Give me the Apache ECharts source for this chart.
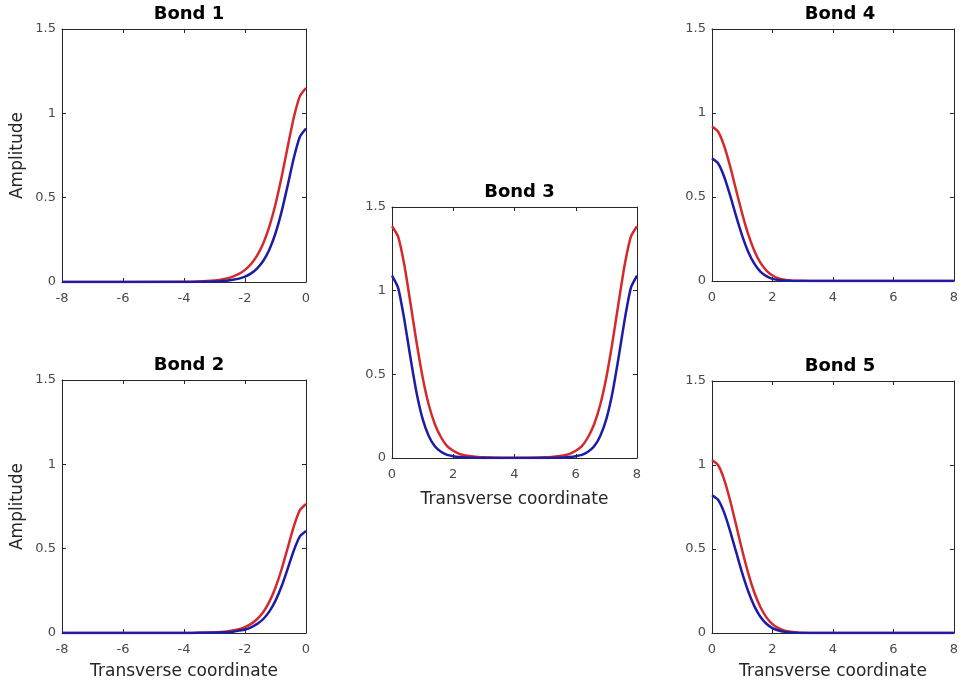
<!DOCTYPE html>
<html>
<head>
<meta charset="utf-8">
<script src="https://cdn.jsdelivr.net/npm/echarts@6/dist/echarts.min.js"></script>
<style>
  html, body { margin: 0; padding: 0; background: #fff; }
  #main { width: 961px; height: 686px; }
</style>
</head>
<body>
<div id="main"></div>
<script>
// 数据: 横坐标采样点
const xsNeg = [-8, -4.0, -3.5, -3.0, -2.8, -2.6, -2.4, -2.2, -2.0, -1.8, -1.6, -1.4, -1.2, -1.0, -0.8, -0.6, -0.4, -0.2, 0];
const xsPos = [0, 0.2, 0.4, 0.6, 0.8, 1.0, 1.2, 1.4, 1.6, 1.8, 2.0, 2.2, 2.4, 2.6, 2.8, 3.0, 3.5, 4.0, 8];
const xsMid = [0, 0.2, 0.4, 0.6, 0.8, 1.0, 1.2, 1.4, 1.6, 1.8, 2.0, 2.2, 2.4, 2.6, 2.8, 3.0, 3.5, 4.0, 4.5,
               5.0, 5.2, 5.4, 5.6, 5.8, 6.0, 6.2, 6.4, 6.6, 6.8, 7.0, 7.2, 7.4, 7.6, 7.8, 8.0];

// 各键的振幅 (红/蓝)
const bond1Red  = [0, 0.001, 0.003, 0.009, 0.014, 0.021, 0.032, 0.048, 0.072, 0.107, 0.158, 0.230, 0.330, 0.461, 0.622, 0.802, 0.975, 1.102, 1.15];
const bond1Blue = [0, 0, 0.001, 0.003, 0.005, 0.008, 0.013, 0.020, 0.032, 0.051, 0.081, 0.126, 0.193, 0.289, 0.417, 0.573, 0.735, 0.861, 0.91];
const bond2Red  = [0, 0, 0.001, 0.004, 0.006, 0.009, 0.015, 0.023, 0.035, 0.054, 0.083, 0.125, 0.186, 0.270, 0.378, 0.505, 0.632, 0.728, 0.765];
const bond2Blue = [0, 0, 0.001, 0.002, 0.003, 0.005, 0.008, 0.014, 0.021, 0.034, 0.054, 0.083, 0.128, 0.192, 0.277, 0.381, 0.489, 0.573, 0.605];
const bond3Red  = [1.385, 1.323, 1.156, 0.929, 0.693, 0.483, 0.318, 0.202, 0.124, 0.071, 0.043, 0.025, 0.015, 0.010, 0.006, 0.004,
                   0.002, 0.001, 0.002,
                   0.004, 0.006, 0.010, 0.015, 0.025, 0.043, 0.071, 0.124, 0.202, 0.318, 0.483, 0.693, 0.929, 1.156, 1.323, 1.385];
const bond3Blue = [1.09, 1.017, 0.830, 0.602, 0.392, 0.234, 0.132, 0.070, 0.037, 0.019, 0.011, 0.006, 0.003, 0.002, 0.001, 0,
                   0, 0, 0,
                   0, 0.001, 0.002, 0.003, 0.006, 0.011, 0.019, 0.037, 0.070, 0.132, 0.234, 0.392, 0.602, 0.830, 1.017, 1.09];
const bond4Red  = [0.92, 0.890, 0.805, 0.682, 0.540, 0.400, 0.277, 0.180, 0.109, 0.062, 0.033, 0.016, 0.008, 0.003, 0.001, 0.001, 0, 0, 0];
const bond4Blue = [0.73, 0.701, 0.622, 0.509, 0.385, 0.269, 0.173, 0.103, 0.056, 0.029, 0.013, 0.006, 0.002, 0.001, 0, 0, 0, 0, 0];
const bond5Red  = [1.03, 1.000, 0.915, 0.789, 0.641, 0.491, 0.355, 0.241, 0.155, 0.093, 0.053, 0.029, 0.014, 0.007, 0.003, 0.001, 0, 0, 0];
const bond5Blue = [0.82, 0.793, 0.718, 0.607, 0.481, 0.356, 0.247, 0.160, 0.097, 0.055, 0.029, 0.015, 0.007, 0.003, 0.001, 0, 0, 0, 0];

const titles = ['Bond 1', 'Bond 2', 'Bond 3', 'Bond 4', 'Bond 5'];

// 面板布局
const panels = [
  { title: titles[0], left: 62,  top: 29,  width: 244, height: 253, xmin: -8, xmax: 0, xs: xsNeg, red: bond1Red, blue: bond1Blue, ylab: true,  xlab: false, gap: 30 },
  { title: titles[1], left: 62,  top: 380, width: 244, height: 253, xmin: -8, xmax: 0, xs: xsNeg, red: bond2Red, blue: bond2Blue, ylab: true,  xlab: true,  gap: 30 },
  { title: titles[2], left: 392, top: 207, width: 245, height: 251, xmin: 0,  xmax: 8, xs: xsMid, red: bond3Red, blue: bond3Blue, ylab: false, xlab: true,  gap: 33 },
  { title: titles[3], left: 712, top: 29,  width: 246, height: 252, xmin: 0,  xmax: 8, xs: xsPos, red: bond4Red, blue: bond4Blue, ylab: false, xlab: false, gap: 30 },
  { title: titles[4], left: 712, top: 381, width: 246, height: 252, xmin: 0,  xmax: 8, xs: xsPos, red: bond5Red, blue: bond5Blue, ylab: false, xlab: true,  gap: 30 }
];

const axisColor = '#262626';
const labelColor = '#4a4a4a';
const font = 'DejaVu Sans, Liberation Sans, Arial, sans-serif';

const grid = [], xAxis = [], yAxis = [], series = [], title = [];

panels.forEach((p, i) => {
  grid.push({ left: p.left, top: p.top, width: p.width, height: p.height, containLabel: false });
  title.push({
    text: p.title, left: p.left + p.width / 2, top: p.top - 29, textAlign: 'center',
    textStyle: { fontFamily: font, fontSize: 18, fontWeight: 'bold', color: '#000' }
  });

  const xBase = {
    type: 'value', gridIndex: i, min: p.xmin, max: p.xmax, interval: 2,
    axisLine: { show: true, onZero: false, lineStyle: { color: axisColor, width: 1 } },
    axisTick: { show: true, inside: true, length: 4, lineStyle: { color: axisColor } },
    splitLine: { show: false }
  };
  xAxis.push(Object.assign({}, xBase, {
    position: 'bottom',
    axisLabel: { color: labelColor, fontFamily: font, fontSize: 13, margin: 10 },
    name: p.xlab ? 'Transverse coordinate' : '', nameLocation: 'middle', nameGap: p.gap,
    nameTextStyle: { color: '#262626', fontFamily: font, fontSize: 17 }
  }));
  xAxis.push(Object.assign({}, xBase, { position: 'top', axisLabel: { show: false } }));

  const yBase = {
    type: 'value', gridIndex: i, min: 0, max: 1.5, interval: 0.5,
    axisLine: { show: true, onZero: false, lineStyle: { color: axisColor, width: 1 } },
    axisTick: { show: true, inside: true, length: 4, lineStyle: { color: axisColor } },
    splitLine: { show: false }
  };
  yAxis.push(Object.assign({}, yBase, {
    position: 'left',
    axisLabel: { color: labelColor, fontFamily: font, fontSize: 13, margin: 6,
                 formatter: v => String(v) },
    name: p.ylab ? 'Amplitude' : '', nameLocation: 'middle', nameGap: 36, nameRotate: 90,
    nameTextStyle: { color: '#262626', fontFamily: font, fontSize: 17 }
  }));
  yAxis.push(Object.assign({}, yBase, { position: 'right', axisLabel: { show: false } }));

  const mk = (ys, color, z) => ({
    type: 'line', xAxisIndex: 2 * i, yAxisIndex: 2 * i,
    data: p.xs.map((x, k) => [x, ys[k]]),
    smooth: 0.2, showSymbol: false, symbol: 'none', z: z,
    lineStyle: { color: color, width: 2.5, join: 'round' }
  });
  series.push(mk(p.red, '#d42a2c', 2));
  series.push(mk(p.blue, '#1c1ca6', 3));
});

const chart = echarts.init(document.getElementById('main'));
chart.setOption({
  animation: false,
  backgroundColor: '#fff',
  title: title,
  grid: grid,
  xAxis: xAxis,
  yAxis: yAxis,
  series: series
});
</script>
</body>
</html>
